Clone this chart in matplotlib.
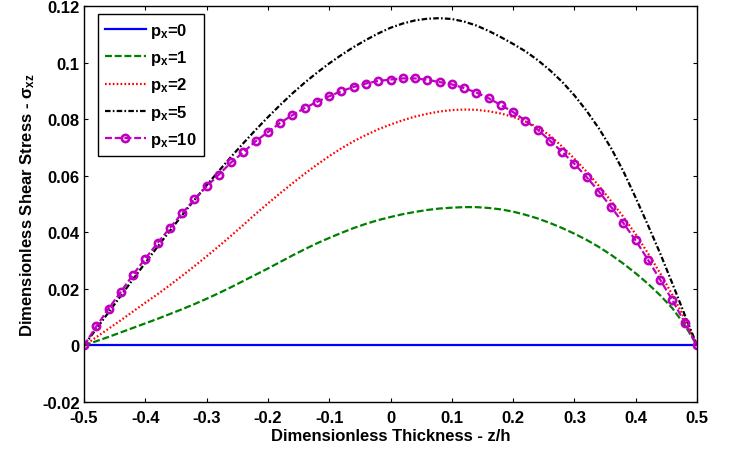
import numpy as np
import matplotlib
matplotlib.use("Agg")
import matplotlib.pyplot as plt

plt.rcParams['font.family'] = ['Liberation Sans', 'DejaVu Sans']
plt.rcParams['font.weight'] = 'bold'
plt.rcParams['mathtext.fontset'] = 'custom'
plt.rcParams['mathtext.rm'] = 'Liberation Sans:bold'
plt.rcParams['mathtext.bf'] = 'Liberation Sans:bold'
plt.rcParams['mathtext.it'] = 'Liberation Sans:bold'
plt.rcParams['lines.scale_dashes'] = False

# ---- data ----
z = [-0.50, -0.48, -0.46, -0.44, -0.42, -0.40, -0.38, -0.36, -0.34, -0.32,
     -0.30, -0.28, -0.26, -0.24, -0.22, -0.20, -0.18, -0.16, -0.14, -0.12,
     -0.10, -0.08, -0.06, -0.04, -0.02, 0.00, 0.02, 0.04, 0.06, 0.08,
     0.10, 0.12, 0.14, 0.16, 0.18, 0.20, 0.22, 0.24, 0.26, 0.28,
     0.30, 0.32, 0.34, 0.36, 0.38, 0.40, 0.42, 0.44, 0.46, 0.48, 0.50]
p0 = [0.0] * 51
p1 = [0.0000, 0.0015, 0.0030, 0.0046, 0.0062, 0.0078, 0.0094, 0.0111, 0.0128, 0.0146,
      0.0165, 0.0185, 0.0206, 0.0228, 0.0250, 0.0272, 0.0295, 0.0318, 0.0340, 0.0361,
      0.0380, 0.0398, 0.0415, 0.0430, 0.0443, 0.0454, 0.0464, 0.0472, 0.0479, 0.0484,
      0.0487, 0.0489, 0.0489, 0.0486, 0.0481, 0.0473, 0.0462, 0.0449, 0.0433, 0.0415,
      0.0395, 0.0373, 0.0348, 0.0320, 0.0289, 0.0255, 0.0218, 0.0177, 0.0131, 0.0072, 0.0000]
p2 = [0.0000, 0.0029, 0.0059, 0.0089, 0.0120, 0.0151, 0.0181, 0.0213, 0.0246, 0.0280,
      0.0315, 0.0351, 0.0388, 0.0426, 0.0465, 0.0502, 0.0538, 0.0573, 0.0607, 0.0639,
      0.0669, 0.0697, 0.0722, 0.0744, 0.0764, 0.0781, 0.0796, 0.0809, 0.0819, 0.0827,
      0.0832, 0.0834, 0.0833, 0.0828, 0.0820, 0.0808, 0.0792, 0.0771, 0.0742, 0.0703,
      0.0660, 0.0614, 0.0564, 0.0510, 0.0454, 0.0393, 0.0326, 0.0255, 0.0178, 0.0095, 0.0000]
p5 = [0.0000, 0.0058, 0.0117, 0.0175, 0.0234, 0.0292, 0.0349, 0.0405, 0.0460, 0.0514,
      0.0566, 0.0617, 0.0667, 0.0715, 0.0762, 0.0807, 0.0850, 0.0891, 0.0929, 0.0964,
      0.0997, 0.1027, 0.1055, 0.1080, 0.1103, 0.1123, 0.1138, 0.1149, 0.1155, 0.1157,
      0.1154, 0.1145, 0.1131, 0.1112, 0.1090, 0.1066, 0.1040, 0.1009, 0.0973, 0.0932,
      0.0884, 0.0829, 0.0767, 0.0697, 0.0615, 0.0522, 0.0425, 0.0325, 0.0218, 0.0108, 0.0000]
p10 = [0.0000, 0.0067, 0.0130, 0.0189, 0.0250, 0.0307, 0.0362, 0.0415, 0.0467, 0.0516,
       0.0562, 0.0604, 0.0647, 0.0683, 0.0722, 0.0754, 0.0787, 0.0814, 0.0839, 0.0861,
       0.0881, 0.0899, 0.0914, 0.0926, 0.0935, 0.0940, 0.0944, 0.0944, 0.0939, 0.0931,
       0.0923, 0.0910, 0.0894, 0.0874, 0.0850, 0.0825, 0.0795, 0.0763, 0.0724, 0.0684,
       0.0642, 0.0595, 0.0544, 0.0489, 0.0432, 0.0371, 0.0303, 0.0232, 0.0159, 0.0081, 0.0000]

labels = ['p$_{x}$=0', 'p$_{x}$=1', 'p$_{x}$=2', 'p$_{x}$=5', 'p$_{x}$=10']
xticks = [-0.5, -0.4, -0.3, -0.2, -0.1, 0.0, 0.1, 0.2, 0.3, 0.4, 0.5]
xticklabels = ['-0.5', '-0.4', '-0.3', '-0.2', '-0.1', '0', '0.1', '0.2', '0.3', '0.4', '0.5']
yticks = [-0.02, 0.0, 0.02, 0.04, 0.06, 0.08, 0.10, 0.12]
yticklabels = ['-0.02', '0', '0.02', '0.04', '0.06', '0.08', '0.1', '0.12']

fig = plt.figure(figsize=(7.29, 4.52), dpi=100)
ax = fig.add_axes([84 / 729, 49 / 452, 613 / 729, 396 / 452])

lw = 1.6
ax.plot(z, p0, color='#0000ff', lw=lw, linestyle='-', label=labels[0])
ax.plot(z, p1, color='#008000', lw=lw, linestyle=(0, (5, 2)), label=labels[1])
ax.plot(z, p2, color='#ff0000', lw=lw, linestyle=(0, (1.2, 1.6)), label=labels[2])
ax.plot(z, p5, color='#000000', lw=lw, linestyle=(0, (4, 1.6, 1.2, 1.6)), label=labels[3])
ax.plot(z, p10, color='#c000c0', lw=lw, linestyle=(0, (5, 2)), marker='o',
        markersize=5.2, markerfacecolor='none', markeredgewidth=1.9, label=labels[4])

ax.set_xlim(-0.5, 0.5)
ax.set_ylim(-0.02, 0.12)
ax.set_xticks(xticks)
ax.set_xticklabels(xticklabels)
ax.set_yticks(yticks)
ax.set_yticklabels(yticklabels)
ax.tick_params(direction='in', length=3, width=0.8, top=True, right=True,
               labelsize=12)
ax.tick_params(axis='x', pad=6)
ax.tick_params(axis='y', pad=3)
for s in ax.spines.values():
    s.set_linewidth(1.0)

ax.set_xlabel('Dimensionless Thickness - z/h', fontsize=12, fontweight='bold', labelpad=2)
ax.set_ylabel('Dimensionless Shear Stress - σ$_{xz}$', fontsize=12, fontweight='bold', labelpad=4)

leg = ax.legend(loc='upper left', bbox_to_anchor=(14 / 613, 1 - 8 / 396), borderaxespad=0,
                fancybox=False, framealpha=1, edgecolor='black', fontsize=12,
                handlelength=2.45, handletextpad=0.3, labelspacing=0.5, borderpad=0.4)
leg.get_frame().set_linewidth(1.0)

fig.savefig('out.png', dpi=100)
